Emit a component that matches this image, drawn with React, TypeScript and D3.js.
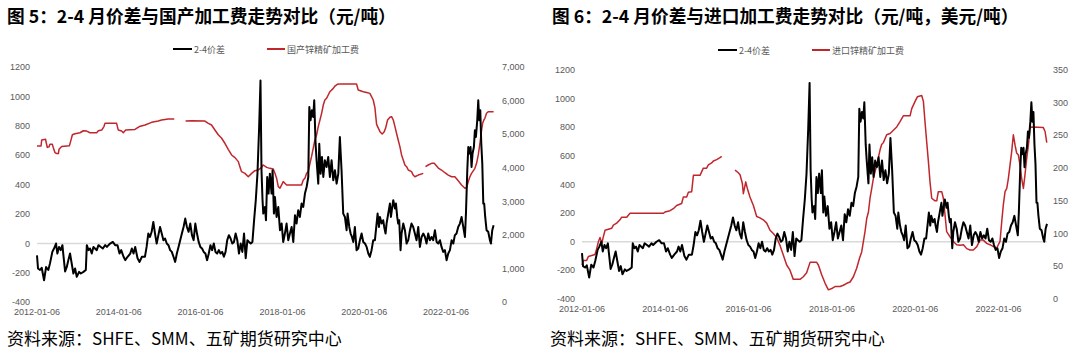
import React from "react";
import * as d3 from "d3";

// ---------- DATA ----------
const xTickLabels = ["2012-01-06", "2014-01-06", "2016-01-06", "2018-01-06", "2020-01-06", "2022-01-06"];
const xDomain = ["2012-01-06", "2023-03-07"];
const leftTicks = [-400, -200, 0, 200, 400, 600, 800, 1000, 1200];
const rightTicksA = [0, 1000, 2000, 3000, 4000, 5000, 6000, 7000];
const rightTicksB = [0, 50, 100, 150, 200, 250, 300, 350];

const titleA = "图 5：2-4 月价差与国产加工费走势对比（元/吨）";
const titleB = "图 6：2-4 月价差与进口加工费走势对比（元/吨，美元/吨）";
const source = "资料来源：SHFE、SMM、五矿期货研究中心";
const seriesSpreadName = "2-4价差";
const seriesDomesticName = "国产锌精矿加工费";
const seriesImportName = "进口锌精矿加工费";

// 2-4 month spread (yuan/ton)
const spread: [string, number][] = [
  ["2012-01-06", -80], ["2012-01-15", -170], ["2012-02-02", -180], ["2012-02-17", -165],
  ["2012-03-09", -250], ["2012-03-27", -160], ["2012-04-16", -180], ["2012-05-01", -135],
  ["2012-05-22", -57], ["2012-06-06", -34], ["2012-06-24", 0], ["2012-07-06", -68],
  ["2012-07-21", -23], ["2012-08-05", -45], ["2012-08-20", -11], ["2012-08-29", -80],
  ["2012-09-13", -190], ["2012-09-28", -159], ["2012-10-12", -113], ["2012-10-27", -68],
  ["2012-11-11", -136], ["2012-11-26", -204], ["2012-12-11", -170], ["2012-12-26", -227],
  ["2013-01-16", -193], ["2013-01-31", -204], ["2013-02-24", -193], ["2013-03-17", -180],
  ["2013-03-26", -11], ["2013-04-10", -45], ["2013-04-24", -34], ["2013-05-09", -68],
  ["2013-05-24", -23], ["2013-06-23", -45], ["2013-07-08", -11], ["2013-07-29", -23],
  ["2013-08-16", -34], ["2013-09-06", -11], ["2013-09-21", -23], ["2013-10-20", 0],
  ["2013-11-13", 11], ["2013-12-04", -11], ["2013-12-25", -11], ["2014-01-12", -68],
  ["2014-01-27", -45], ["2014-02-17", -90], ["2014-03-04", -113], ["2014-03-25", -90],
  ["2014-04-18", -68], ["2014-05-02", -34], ["2014-05-17", -68], ["2014-06-01", -23],
  ["2014-06-22", -100], ["2014-07-10", -125], ["2014-07-31", -90], ["2014-08-27", -90],
  ["2014-09-11", -23], ["2014-09-26", 68], ["2014-10-11", 45], ["2014-10-26", 80],
  ["2014-11-10", 147], ["2014-11-25", 68], ["2014-12-10", 0], ["2014-12-25", 57],
  ["2015-01-09", 113], ["2015-01-24", 68], ["2015-02-08", 23], ["2015-02-23", 34],
  ["2015-03-10", 0], ["2015-03-25", -11], ["2015-04-09", -45], ["2015-04-24", -57],
  ["2015-05-09", -90], ["2015-05-24", -125], ["2015-06-08", -68], ["2015-06-23", -23],
  ["2015-07-08", 23], ["2015-07-23", 68], ["2015-08-07", 113], ["2015-08-22", 170],
  ["2015-09-06", 113], ["2015-09-21", 80], ["2015-10-06", 136], ["2015-10-21", 57],
  ["2015-11-05", 23], ["2015-11-20", 136], ["2015-12-05", 68], ["2015-12-20", 11],
  ["2016-01-04", -23], ["2016-01-19", -34], ["2016-02-03", -57], ["2016-02-18", -68],
  ["2016-03-04", -113], ["2016-03-19", -68], ["2016-04-03", -11], ["2016-04-18", -45],
  ["2016-05-03", 0], ["2016-05-18", -57], ["2016-06-02", -68], ["2016-06-17", -45],
  ["2016-07-02", -68], ["2016-07-17", -57], ["2016-08-01", -90], ["2016-08-16", -57],
  ["2016-08-31", 23], ["2016-09-15", 57], ["2016-09-30", 34], ["2016-10-15", 0],
  ["2016-10-30", 11], ["2016-11-14", 68], ["2016-11-29", 23], ["2016-12-14", -68],
  ["2016-12-29", 0], ["2017-01-13", -57], ["2017-01-28", 68], ["2017-02-12", -100],
  ["2017-02-27", 23], ["2017-03-14", 11], ["2017-03-29", 0], ["2017-04-13", 11],
  ["2017-04-28", 160], ["2017-05-13", 295], ["2017-05-28", 476], ["2017-06-12", 793],
  ["2017-06-24", 1110], ["2017-07-03", 500], ["2017-07-12", 300], ["2017-07-19", 204],
  ["2017-08-03", 249], ["2017-08-12", 159], ["2017-08-23", 453], ["2017-09-04", 340],
  ["2017-09-16", 476], ["2017-10-01", 340], ["2017-10-10", 499], ["2017-10-22", 204],
  ["2017-10-31", 317], ["2017-11-15", 181], ["2017-11-30", 249], ["2017-12-15", 91],
  ["2017-12-30", 136], ["2018-01-13", 11], ["2018-01-28", 68], ["2018-02-12", 136],
  ["2018-02-27", 23], ["2018-03-14", 68], ["2018-03-29", 113], ["2018-04-13", 11],
  ["2018-04-28", 193], ["2018-05-12", 136], ["2018-05-27", 227], ["2018-06-11", 181],
  ["2018-06-26", 272], ["2018-07-11", 249], ["2018-07-26", 340], ["2018-08-10", 385],
  ["2018-08-25", 453], ["2018-09-03", 930], ["2018-09-14", 839], ["2018-09-26", 907],
  ["2018-10-08", 861], ["2018-10-17", 975], ["2018-10-29", 680], ["2018-11-07", 567],
  ["2018-11-22", 408], ["2018-12-01", 680], ["2018-12-13", 476], ["2018-12-25", 590],
  ["2019-01-06", 453], ["2019-01-20", 567], ["2019-02-04", 521], ["2019-02-19", 590],
  ["2019-03-06", 453], ["2019-03-21", 567], ["2019-04-05", 431], ["2019-04-20", 499],
  ["2019-05-05", 408], ["2019-05-20", 476], ["2019-06-03", 725], ["2019-06-18", 499],
  ["2019-07-03", 204], ["2019-07-18", 181], ["2019-08-02", 91], ["2019-08-11", 204],
  ["2019-08-26", 113], ["2019-09-07", 68], ["2019-09-19", 45], ["2019-10-01", 11],
  ["2019-10-15", 113], ["2019-10-30", -45], ["2019-11-14", -34], ["2019-11-29", 23],
  ["2019-12-14", 68], ["2019-12-29", 11], ["2020-01-13", 0], ["2020-01-28", -23],
  ["2020-02-12", -68], ["2020-02-26", -90], ["2020-03-12", -45], ["2020-03-27", 23],
  ["2020-04-11", 23], ["2020-04-26", 136], ["2020-05-05", 204], ["2020-05-17", 113],
  ["2020-05-26", 181], ["2020-06-10", 136], ["2020-06-24", 159], ["2020-07-03", 113],
  ["2020-07-15", 68], ["2020-07-24", 136], ["2020-08-08", 204], ["2020-08-23", 272],
  ["2020-09-01", 181], ["2020-09-13", 249], ["2020-09-22", 295], ["2020-10-07", 238],
  ["2020-10-16", 272], ["2020-10-27", 181], ["2020-11-05", 136], ["2020-11-14", 159],
  ["2020-11-26", -45], ["2020-12-05", 68], ["2020-12-20", 136], ["2021-01-04", 91],
  ["2021-01-19", 0], ["2021-02-03", 23], ["2021-02-18", 91], ["2021-03-04", 136],
  ["2021-03-19", 113], ["2021-04-03", 68], ["2021-04-18", 23], ["2021-05-03", 113],
  ["2021-05-18", -23], ["2021-06-02", 45], ["2021-06-17", 68], ["2021-07-02", 45],
  ["2021-07-16", 0], ["2021-07-31", 68], ["2021-08-15", 23], ["2021-08-30", 45],
  ["2021-09-14", 23], ["2021-09-29", 91], ["2021-10-14", 11], ["2021-10-29", 0],
  ["2021-11-13", 23], ["2021-11-27", -23], ["2021-12-12", -57], ["2021-12-27", -45],
  ["2022-01-11", -113], ["2022-01-26", -68], ["2022-02-10", -45], ["2022-02-25", 23],
  ["2022-03-12", 0], ["2022-03-26", 57], ["2022-04-10", 68], ["2022-04-25", 113],
  ["2022-05-10", 136], ["2022-05-25", 181], ["2022-06-09", 113], ["2022-06-24", 45],
  ["2022-07-03", 204], ["2022-07-15", 499], ["2022-07-24", 657], ["2022-08-01", 612],
  ["2022-08-13", 657], ["2022-08-22", 521], ["2022-08-31", 612], ["2022-09-12", 657],
  ["2022-09-21", 771], ["2022-09-30", 726], ["2022-10-12", 839], ["2022-10-21", 975],
  ["2022-10-30", 839], ["2022-11-08", 907], ["2022-11-17", 680], ["2022-11-26", 544],
  ["2022-12-05", 272], ["2022-12-13", 272], ["2022-12-22", 181], ["2023-01-03", 91],
  ["2023-01-18", 80], ["2023-02-02", 23], ["2023-02-11", 0], ["2023-02-23", 91],
  ["2023-03-07", 125],
];

// Domestic zinc concentrate TC (yuan/ton), null = missing
const domesticTC: [string, number | null][] = [
  ["2012-01-06", 4656], ["2012-02-11", 4656], ["2012-02-17", 4835], ["2012-03-23", 4855],
  ["2012-03-26", 4790], ["2012-04-07", 4615], ["2012-04-22", 4630], ["2012-05-01", 4705],
  ["2012-05-22", 4705], ["2012-05-31", 4605], ["2012-06-15", 4457], ["2012-06-30", 4430],
  ["2012-07-15", 4430], ["2012-07-21", 4560], ["2012-08-13", 4640], ["2012-10-21", 4660],
  ["2012-11-02", 4800], ["2012-11-17", 4990], ["2012-12-10", 5020], ["2013-01-24", 5050],
  ["2013-02-23", 5110], ["2013-03-25", 5100], ["2013-04-23", 5050], ["2013-06-22", 5050],
  ["2013-07-07", 5110], ["2013-08-06", 5130], ["2013-08-26", 5235], ["2013-09-04", 5330],
  ["2013-12-17", 5330], ["2014-01-01", 5130], ["2014-01-31", 5100], ["2014-02-15", 5050],
  ["2014-03-08", 5130], ["2014-05-30", 5150], ["2014-07-08", 5235], ["2014-08-28", 5282],
  ["2014-10-26", 5361], ["2014-12-24", 5400], ["2015-01-23", 5431], ["2015-03-23", 5460],
  ["2015-05-16", 5460], ["2015-06-20", null], ["2015-08-25", 5400], ["2015-10-18", 5410],
  ["2016-02-14", 5400], ["2016-03-15", 5330], ["2016-04-13", 5282], ["2016-05-13", 5133],
  ["2016-06-12", 4990], ["2016-07-12", 4886], ["2016-08-10", 4737], ["2016-09-09", 4557],
  ["2016-10-09", 4388], ["2016-11-08", 4310], ["2016-12-08", 4190], ["2016-12-22", 4040],
  ["2017-01-06", 3891], ["2017-02-05", 3840], ["2017-03-07", 3741], ["2017-04-06", 3840],
  ["2017-05-05", 3920], ["2017-06-04", 3940], ["2017-07-04", 4020], ["2017-07-19", 4090],
  ["2017-08-18", 4020], ["2017-09-16", 3990], ["2017-10-16", 3970], ["2017-10-31", 3842],
  ["2017-11-15", 3693], ["2017-11-30", 3445], ["2017-12-15", 3400], ["2017-12-30", 3495],
  ["2018-01-13", 3594], ["2018-01-28", 3545], ["2018-02-12", 3495], ["2018-06-26", 3495],
  ["2018-07-11", 3644], ["2018-07-26", 3693], ["2018-08-10", 3842], ["2018-08-25", 3892],
  ["2018-09-09", 4140], ["2018-09-23", 4339], ["2018-10-08", 4587], ["2018-10-23", 4835],
  ["2018-11-07", 4983], ["2018-11-22", 5232], ["2018-12-07", 5430], ["2018-12-22", 5629],
  ["2019-01-06", 5877], ["2019-01-20", 6026], ["2019-02-04", 6076], ["2019-02-19", 6174],
  ["2019-03-06", 6274], ["2019-04-05", 6373], ["2019-04-20", 6442], ["2019-05-11", 6492],
  ["2019-06-03", 6502], ["2019-10-30", 6502], ["2019-11-14", 6323], ["2019-12-29", 6274],
  ["2020-01-28", 6250], ["2020-02-26", 6224], ["2020-03-27", 6026], ["2020-04-11", 5800],
  ["2020-04-26", 5300], ["2020-05-26", 5083], ["2020-06-15", 5013], ["2020-07-03", 5083],
  ["2020-07-15", 5182], ["2020-08-02", 5430], ["2020-08-23", 5510], ["2020-09-07", 5530],
  ["2020-09-22", 5430], ["2020-10-07", 5232], ["2020-10-21", 5035], ["2020-11-05", 4835],
  ["2020-11-20", 4637], ["2020-12-05", 4390], ["2020-12-20", 4240], ["2021-01-04", 4090],
  ["2021-01-19", 4040], ["2021-02-03", 3940], ["2021-03-04", 3890], ["2021-03-19", 3790],
  ["2021-04-03", 3741], ["2021-05-03", 3790], ["2021-06-17", 3840], ["2021-06-25", null],
  ["2021-07-07", 4040], ["2021-07-31", 4090], ["2021-08-30", 4140], ["2021-09-23", 4140],
  ["2021-10-14", 4060], ["2021-10-29", 4000], ["2021-11-27", 3940], ["2021-12-27", 3860],
  ["2022-01-26", 3790], ["2022-02-25", 3741], ["2022-03-26", 3741], ["2022-04-25", 3620],
  ["2022-05-25", 3495], ["2022-06-24", 3396], ["2022-07-09", 3420], ["2022-07-24", 3594],
  ["2022-08-07", 3741], ["2022-08-22", 3842], ["2022-09-21", 3990], ["2022-10-06", 4140],
  ["2022-10-21", 4390], ["2022-11-05", 4736], ["2022-11-20", 5133], ["2022-11-29", 5331],
  ["2022-12-10", 5430], ["2022-12-19", 5480], ["2023-01-03", 5629], ["2023-01-18", 5678],
  ["2023-03-07", 5678],
];

// Imported zinc concentrate TC (USD/ton), null = missing
const importTC: [string, number | null][] = [
  ["2012-01-06", 52], ["2012-01-18", 59], ["2012-02-16", 59], ["2012-03-02", 65],
  ["2012-04-29", 68], ["2012-05-14", 77], ["2012-05-28", 87], ["2012-06-12", 94],
  ["2012-06-27", 85], ["2012-07-11", 95], ["2012-07-26", 105], ["2012-09-22", 108],
  ["2012-10-07", 113], ["2012-11-05", 116], ["2012-12-04", 121], ["2012-12-19", 125],
  ["2013-02-01", 125], ["2013-03-02", 131], ["2013-12-20", 131], ["2014-01-03", 133],
  ["2014-02-16", 135], ["2014-03-17", 138], ["2014-04-15", 143], ["2014-05-29", 146],
  ["2014-06-13", 156], ["2014-07-12", 156], ["2014-07-27", 163], ["2014-08-25", 164],
  ["2014-09-09", 189], ["2014-11-06", 189], ["2014-12-05", 200], ["2015-01-03", 200],
  ["2015-01-18", 205], ["2015-02-16", 208], ["2015-03-03", 211], ["2015-04-01", 213],
  ["2015-04-30", 216], ["2015-05-15", 218], ["2015-07-01", null], ["2015-09-09", 197],
  ["2015-10-08", 193], ["2015-10-23", 190], ["2015-11-12", 177], ["2015-11-21", 161],
  ["2015-12-12", 179], ["2015-12-26", 169], ["2016-01-18", 156], ["2016-02-17", 143],
  ["2016-03-17", 126], ["2016-04-15", 124], ["2016-05-14", 121], ["2016-06-13", 116],
  ["2016-07-12", 105], ["2016-08-10", 100], ["2016-09-08", 94], ["2016-10-07", 82],
  ["2016-11-06", 67], ["2016-12-05", 52], ["2017-01-03", 44], ["2017-02-01", 30],
  ["2017-04-01", 30], ["2017-04-30", 34], ["2017-05-29", 40], ["2017-06-28", 56],
  ["2017-08-25", 56], ["2017-09-09", 52], ["2017-10-08", 37], ["2017-11-07", 24],
  ["2017-12-06", 14], ["2018-01-04", 16], ["2018-02-02", 19], ["2018-03-18", 19],
  ["2018-04-16", 21], ["2018-05-16", 24], ["2018-06-14", 26], ["2018-07-13", 34],
  ["2018-08-11", 47], ["2018-09-04", 62], ["2018-09-24", 72], ["2018-10-09", 88],
  ["2018-10-23", 103], ["2018-11-07", 123], ["2018-11-22", 133], ["2018-12-06", 154],
  ["2018-12-21", 169], ["2019-01-04", 184], ["2019-02-03", 205], ["2019-03-04", 228],
  ["2019-03-18", 236], ["2019-04-02", 239], ["2019-05-01", 251], ["2019-05-31", 253],
  ["2019-06-29", 258], ["2019-07-28", 263], ["2019-08-26", 271], ["2019-09-24", 280],
  ["2019-11-22", 280], ["2019-12-07", 291], ["2020-01-05", 302], ["2020-01-25", 309],
  ["2020-03-03", 311], ["2020-03-18", 302], ["2020-04-01", 271], ["2020-04-16", 240],
  ["2020-05-01", 210], ["2020-05-15", 179], ["2020-05-30", 154], ["2020-06-28", 150],
  ["2020-07-13", 150], ["2020-07-27", 164], ["2020-08-26", 164], ["2020-09-09", 154],
  ["2020-09-24", 128], ["2020-10-08", 103], ["2020-11-07", 95], ["2020-12-06", 88],
  ["2021-01-04", 83], ["2021-02-02", 82], ["2021-03-04", 83], ["2021-04-02", 77],
  ["2021-05-01", 75], ["2021-05-30", 75], ["2021-06-29", 80], ["2021-07-28", 90],
  ["2021-08-26", 90], ["2021-09-24", 85], ["2021-10-23", 83], ["2021-11-22", 80],
  ["2021-12-21", 78], ["2022-01-19", 88], ["2022-02-03", 118], ["2022-02-17", 144],
  ["2022-03-04", 164], ["2022-03-19", 169], ["2022-04-02", 184], ["2022-04-17", 205],
  ["2022-05-01", 225], ["2022-05-16", 251], ["2022-05-31", 235], ["2022-06-14", 223],
  ["2022-06-29", 220], ["2022-07-13", 205], ["2022-07-28", 184], ["2022-08-12", 169],
  ["2022-08-26", 190], ["2022-09-10", 215], ["2022-09-25", 235], ["2022-10-09", 261],
  ["2022-10-24", 263], ["2023-02-03", 262], ["2023-02-18", 256], ["2023-03-05", 239],
];

// ---------- RENDERING ----------
const parse = d3.timeParse("%Y-%m-%d");
const RED = "#C0272D";
const GRAY_TEXT = "#595959";
const NUM_FONT = "'Liberation Sans', Arial, sans-serif";
const CJK_FONT = "'Noto Sans CJK SC', sans-serif";

type PanelProps = {
  x0: number; x1: number; yTop: number; yBottom: number;
  leftLabelX: number; rightLabelX: number;
  rightTicks: number[]; rightFormat: (v: number) => string;
  red: [string, number | null][];
  title: string; titleX: number;
  redName: string;
  legendBlackX: number; legendRedX: number; legendY: number;
  sourceX: number;
};

function Panel(p: PanelProps) {
  const x = d3.scaleTime()
    .domain([parse(xDomain[0])!, parse(xDomain[1])!])
    .range([p.x0, p.x1]);
  const yL = d3.scaleLinear().domain([-400, 1200]).range([p.yBottom, p.yTop]);
  const rMax = p.rightTicks[p.rightTicks.length - 1];
  const yR = d3.scaleLinear().domain([0, rMax]).range([p.yBottom, p.yTop]);

  const blackLine = d3.line<[string, number]>()
    .x((d) => x(parse(d[0])!))
    .y((d) => yL(d[1]));
  const redLine = d3.line<[string, number | null]>()
    .defined((d) => d[1] !== null)
    .x((d) => x(parse(d[0])!))
    .y((d) => yR(d[1] as number));

  return (
    <g>
      <text x={p.titleX} y={23} fontFamily={CJK_FONT} fontWeight={700} fontSize={17.7} fill="#000">{p.title}</text>

      {/* legend */}
      <line x1={p.legendBlackX} x2={p.legendBlackX + 19} y1={p.legendY} y2={p.legendY} stroke="#000" strokeWidth={2} />
      <text x={p.legendBlackX + 21} y={p.legendY} dominantBaseline="central" fontFamily={CJK_FONT} fontSize={9} fill={GRAY_TEXT}>{seriesSpreadName}</text>
      <line x1={p.legendRedX} x2={p.legendRedX + 18} y1={p.legendY} y2={p.legendY} stroke={RED} strokeWidth={2} />
      <text x={p.legendRedX + 20} y={p.legendY} dominantBaseline="central" fontFamily={CJK_FONT} fontSize={9} fill={GRAY_TEXT}>{p.redName}</text>

      {/* zero line */}
      <line x1={p.x0} x2={p.x1} y1={yL(0)} y2={yL(0)} stroke="#D9D9D9" strokeWidth={1.5} />

      {/* left axis labels */}
      {leftTicks.map((t) => (
        <text key={"l" + t} x={p.leftLabelX} y={yL(t)} textAnchor="end" dominantBaseline="central" fontFamily={NUM_FONT} fontSize={9} fill={GRAY_TEXT}>{t}</text>
      ))}
      {/* right axis labels */}
      {p.rightTicks.map((t) => (
        <text key={"r" + t} x={p.rightLabelX} y={yR(t)} textAnchor="start" dominantBaseline="central" fontFamily={NUM_FONT} fontSize={9} fill={GRAY_TEXT}>{p.rightFormat(t)}</text>
      ))}
      {/* x labels */}
      {xTickLabels.map((t) => (
        <text key={"x" + t} x={x(parse(t)!)} y={p.yBottom + 10} textAnchor="middle" dominantBaseline="central" fontFamily={NUM_FONT} fontSize={9} fill={GRAY_TEXT}>{t}</text>
      ))}

      <path d={redLine(p.red) || ""} fill="none" stroke={RED} strokeWidth={1.5} strokeLinejoin="round" />
      <path d={blackLine(spread) || ""} fill="none" stroke="#000" strokeWidth={2} strokeLinejoin="round" />

      <text x={p.sourceX} y={345} fontFamily={CJK_FONT} fontSize={17} fill="#000">{source}</text>
    </g>
  );
}

export default function App() {
  const fmtComma = d3.format(",");
  return (
    <svg width={1080} height={357} style={{ position: "absolute", left: 0, top: 0, background: "#fff" }}>
      <rect x={0} y={0} width={1080} height={357} fill="#fff" />
      <Panel
        x0={37} x1={493.6} yTop={67.3} yBottom={302.3}
        leftLabelX={30} rightLabelX={502}
        rightTicks={rightTicksA} rightFormat={(v) => fmtComma(v)}
        red={domesticTC}
        title={titleA} titleX={7}
        redName={seriesDomesticName}
        legendBlackX={173} legendRedX={267} legendY={49}
        sourceX={7}
      />
      <Panel
        x0={582} x1={1047} yTop={70} yBottom={299}
        leftLabelX={575} rightLabelX={1053}
        rightTicks={rightTicksB} rightFormat={(v) => String(v)}
        red={importTC}
        title={titleB} titleX={552}
        redName={seriesImportName}
        legendBlackX={718} legendRedX={812} legendY={50}
        sourceX={550}
      />
    </svg>
  );
}
